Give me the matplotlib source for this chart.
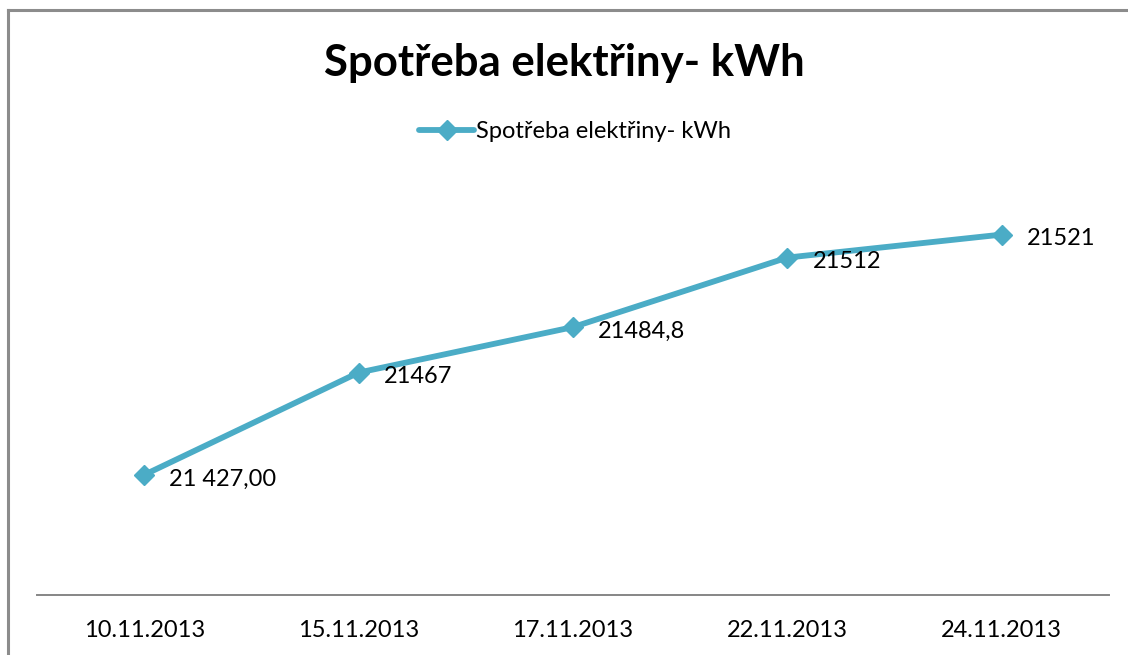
import matplotlib.pyplot as plt
from matplotlib.lines import Line2D

# data
dates = ["10.11.2013", "15.11.2013", "17.11.2013", "22.11.2013", "24.11.2013"]
values = [21427.0, 21467.0, 21484.8, 21512.0, 21521.0]
labels = ["21 427,00", "21467", "21484,8", "21512", "21521"]

TITLE = "Spotřeba elektřiny- kWh"
COLOR = "#4BACC6"
W, H = 1128, 655

plt.rcParams["font.family"] = ["Lato", "DejaVu Sans"]

fig = plt.figure(figsize=(W / 100, H / 100), dpi=100)
fig.patch.set_facecolor("white")

# chart border: only top and left edges are inside the picture
fig.lines.append(Line2D([8 / W, 1.0], [1 - 10 / H, 1 - 10 / H], transform=fig.transFigure,
                        color="#8c8c8c", linewidth=2.2))
fig.lines.append(Line2D([8 / W, 8 / W], [0.0, 1 - 10 / H], transform=fig.transFigure,
                        color="#8c8c8c", linewidth=2.2))

# plot area in pixels: x 37..1109, y 186..595
ax = fig.add_axes([37 / W, 1 - 595 / H, 1072 / W, 409 / H])
x = list(range(len(dates)))
ax.plot(x, values, color=COLOR, linewidth=4.2, marker="D", markersize=10,
        label=TITLE, solid_capstyle="round")
ax.set_xlim(-0.5, len(dates) - 0.5)
ax.set_ylim(21380, 21540)

for xi, v, lab in zip(x, values, labels):
    ax.annotate(lab, (xi, v), xytext=(18, -3), textcoords="offset points",
                ha="left", va="center", fontsize=17, color="black")

for s in ["top", "right", "left"]:
    ax.spines[s].set_visible(False)
ax.spines["bottom"].set_color("#868686")
ax.spines["bottom"].set_linewidth(1.4)
ax.set_yticks([])
ax.set_xticks(x)
ax.set_xticklabels(dates, fontsize=17)
ax.tick_params(axis="x", length=0, pad=18)

fig.text(0.5, 1 - 63 / H, TITLE, ha="center", va="center",
         fontsize=31.5, fontweight="bold")

fig.legend(loc="center", bbox_to_anchor=(0.51, 1 - 132 / H), frameon=False,
           fontsize=17, handlelength=2.3, handletextpad=0.1)

fig.savefig("out.png", dpi=100)
